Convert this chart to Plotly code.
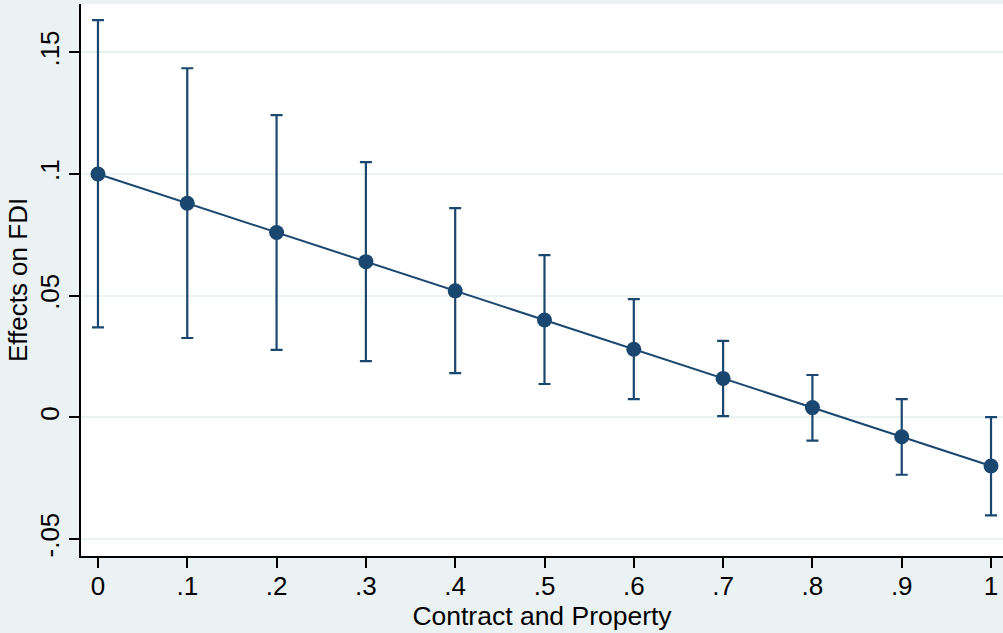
import plotly.graph_objects as go

x_vals = [0, 0.1, 0.2, 0.3, 0.4, 0.5, 0.6, 0.7, 0.8, 0.9, 1.0]
effect = [0.100, 0.088, 0.076, 0.064, 0.052, 0.040, 0.028, 0.016, 0.004, -0.008, -0.020]
ci_upper = [0.1633, 0.1435, 0.1242, 0.1049, 0.0860, 0.0667, 0.0486, 0.0314, 0.0174, 0.0075, 0.0001]
ci_lower = [0.0370, 0.0326, 0.0277, 0.0231, 0.0182, 0.0137, 0.0075, 0.0005, -0.0096, -0.0236, -0.0403]

x_ticks = [0, 0.1, 0.2, 0.3, 0.4, 0.5, 0.6, 0.7, 0.8, 0.9, 1.0]
x_ticktext = ["0", ".1", ".2", ".3", ".4", ".5", ".6", ".7", ".8", ".9", "1"]
y_ticks = [-0.05, 0, 0.05, 0.1, 0.15]
y_ticktext = ["-.05", "0", ".05", ".1", ".15"]

navy = "#1a476f"
bg = "#eaf2f3"
font_family = "Liberation Sans, Arial, Helvetica, sans-serif"

err_plus = [u - e for u, e in zip(ci_upper, effect)]
err_minus = [e - l for e, l in zip(effect, ci_lower)]

fig = go.Figure()
fig.add_trace(go.Scatter(
    x=x_vals, y=effect,
    mode="lines+markers",
    line=dict(color=navy, width=2),
    marker=dict(color=navy, size=15, symbol="circle"),
    error_y=dict(type="data", symmetric=False, array=err_plus, arrayminus=err_minus,
                 color=navy, thickness=2.2, width=6),
    showlegend=False,
))

fig.update_layout(
    width=1003, height=633,
    margin=dict(l=81, r=0, t=4, b=77),
    paper_bgcolor=bg,
    plot_bgcolor="white",
    font=dict(family=font_family, size=26, color="black"),
    xaxis=dict(
        range=[-0.019, 1.0134],
        tickvals=x_ticks, ticktext=x_ticktext,
        showgrid=False, zeroline=False,
        showline=True, linecolor="black", linewidth=1.5,
        ticks="outside", ticklen=10, tickwidth=1.5, tickcolor="black",
        tickfont=dict(size=26),
        ticklabelstandoff=-4,
        title=dict(text="Contract and Property", font=dict(size=26.5), standoff=0),
    ),
    yaxis=dict(
        range=[-0.057, 0.1699],
        tickvals=y_ticks, ticktext=y_ticktext,
        tickangle=-90,
        showgrid=True, gridcolor=bg, gridwidth=2,
        zeroline=False,
        showline=True, linecolor="black", linewidth=1.5,
        ticks="outside", ticklen=10, tickwidth=1.5, tickcolor="black",
        tickfont=dict(size=26),
        title=dict(text="Effects on FDI", font=dict(size=26), standoff=0),
    ),
)

fig.write_html("out.html")
